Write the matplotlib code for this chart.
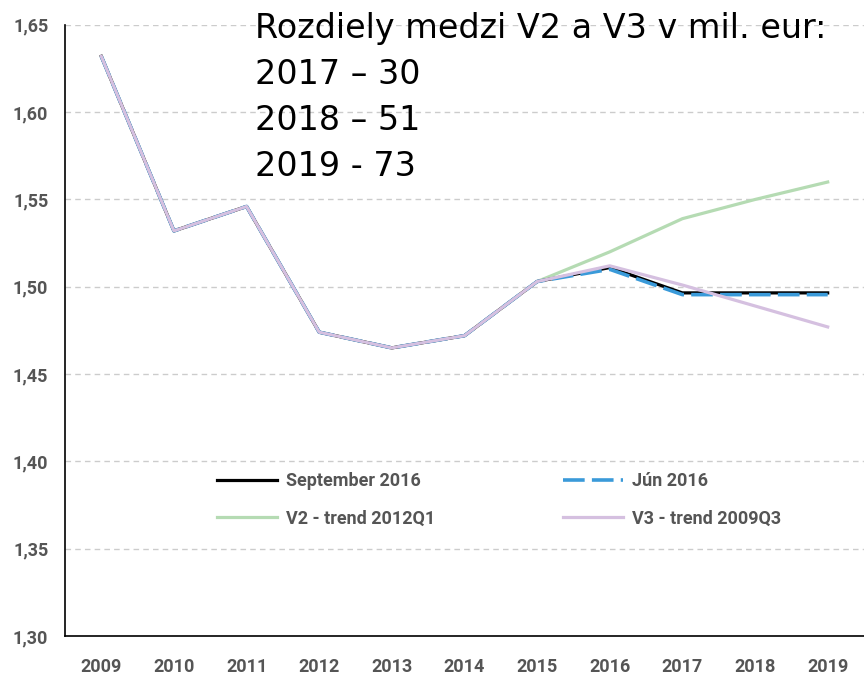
import matplotlib.pyplot as plt
from matplotlib.ticker import FuncFormatter

# Data
years = ["2009", "2010", "2011", "2012", "2013", "2014", "2015", "2016", "2017", "2018", "2019"]
september_2016 = [1.632, 1.532, 1.546, 1.474, 1.465, 1.472, 1.503, 1.511, 1.4965, 1.4965, 1.4965]
jun_2016 = [1.632, 1.532, 1.546, 1.474, 1.465, 1.472, 1.503, 1.510, 1.4955, 1.4955, 1.4955]
v2_trend = [1.632, 1.532, 1.546, 1.474, 1.465, 1.472, 1.503, 1.520, 1.539, 1.550, 1.560]
v3_trend = [1.632, 1.532, 1.546, 1.474, 1.465, 1.472, 1.503, 1.512, 1.501, 1.489, 1.477]
note_lines = ["Rozdiely medzi V2 a V3 v mil. eur:", "2017 \u2013 30", "2018 \u2013 51", "2019 - 73"]

plt.rcParams['font.family'] = ['Roboto', 'DejaVu Sans']

fig = plt.figure(figsize=(8.64, 6.76), dpi=100)
ax = fig.add_axes([0.0752, 0.0592, 0.9248, 0.904])

x = range(len(years))
l1, = ax.plot(x, september_2016, color="black", lw=2.3, label="September 2016", zorder=3)
l2, = ax.plot(x, jun_2016, color="#3a9ad9", lw=2.6, ls=(0, (6, 2)), label="J\u00fan 2016", zorder=4)
l3, = ax.plot(x, v2_trend, color="#b5dbb3", lw=2.3, label="V2 - trend 2012Q1", zorder=2)
l4, = ax.plot(x, v3_trend, color="#d5c0e0", lw=2.3, label="V3 - trend 2009Q3", zorder=5)

ax.set_xlim(-0.5, len(years) - 0.5)
ax.set_ylim(1.30, 1.65)
ax.set_yticks([1.30 + 0.05 * i for i in range(8)])
ax.yaxis.set_major_formatter(FuncFormatter(lambda v, p: f"{v:.2f}".replace(".", ",")))
ax.set_xticks(list(x))
ax.set_xticklabels(years)
ax.tick_params(length=0, labelsize=13, labelcolor="#555555")
ax.tick_params(axis="x", pad=16)
ax.tick_params(axis="y", pad=12)
for lab in ax.get_xticklabels() + ax.get_yticklabels():
    lab.set_fontweight("bold")

ax.grid(axis="y", color="#cccccc", ls=(0, (4, 3)), lw=1)
ax.set_axisbelow(True)
for s in ["top", "right"]:
    ax.spines[s].set_visible(False)
ax.spines["left"].set_linewidth(1.2)
ax.spines["bottom"].set_linewidth(1.2)

# row-major order: Sept, Jún / V2, V3
leg = ax.legend([l1, l3, l2, l4], [l1.get_label(), l3.get_label(), l2.get_label(), l4.get_label()],
                ncol=2, loc="upper left", bbox_to_anchor=(0.17, 0.295), frameon=False,
                columnspacing=7.1, handlelength=3.3, handletextpad=0.5, labelspacing=1.1,
                prop={"weight": "bold", "size": 13})
for t in leg.get_texts():
    t.set_color("#555555")

fig.text(255 / 864, 1 - 12 / 676, "\n".join(note_lines), ha="left", va="top",
         fontsize=24, linespacing=1.5, family=["DejaVu Sans"], color="black")

fig.savefig("out.png", dpi=100)
